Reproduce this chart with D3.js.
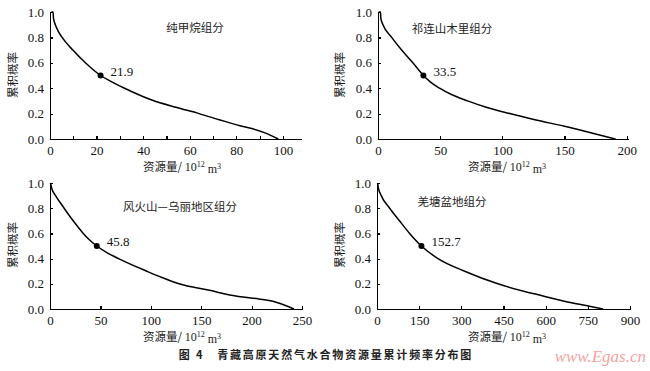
<!DOCTYPE html>
<meta charset="utf-8">
<html>
<head>
<title>资源量累计频率分布图</title>
<style>
  body { margin: 0; background: #fff; }
  svg { display: block; }
  .axis path, .axis line { stroke: #000; stroke-width: 1.2; fill: none; shape-rendering: crispEdges; }
  .axis text { font-family: "Liberation Serif", "DejaVu Serif", serif; font-size: 13px; fill: #111; }
  .cn { font-family: "Noto Sans CJK SC", sans-serif; fill: #222; }
  .curve { fill: none; stroke: #000; stroke-width: 1.5; }
</style>
</head>
<body>
<svg width="650" height="371"></svg>
<script src="https://d3js.org/d3.v7.min.js"></script>
<script>
// values: resource amount (10^12 m3) vs cumulative probability
var ch4X  = [0.6, 1.3, 1.5, 2.3, 3.5, 5.2, 9.8, 15.2, 21.7, 26.5, 32, 44, 54, 64, 73, 81.5, 87, 92, 98];
var ch4P  = [1.0, 1.0, 0.95, 0.9, 0.85, 0.8, 0.7, 0.6, 0.5, 0.45, 0.4, 0.305, 0.25, 0.2, 0.15, 0.105, 0.08, 0.05, 0.0];

var qlX   = [0.5, 2, 2.3, 4, 11, 19, 28, 36.5, 42, 49.5, 59, 72, 87, 106, 127, 150, 171, 191];
var qlP   = [1.0, 1.0, 0.95, 0.9, 0.8, 0.7, 0.6, 0.5, 0.45, 0.4, 0.35, 0.3, 0.25, 0.2, 0.15, 0.1, 0.05, 0.0];

var fhsX  = [0.5, 2, 5.5, 14, 23, 33, 39, 46.4, 56, 68, 96, 111, 128, 157, 187, 207, 222, 233, 242];
var fhsP  = [1.0, 0.95, 0.9, 0.8, 0.7, 0.6, 0.55, 0.5, 0.45, 0.4, 0.3, 0.25, 0.2, 0.15, 0.1, 0.08, 0.06, 0.03, 0.0];

var qtX   = [2, 5, 15, 45, 80, 116, 158, 217, 312, 430, 597, 692, 760, 804];
var qtP   = [1.0, 0.96, 0.9, 0.8, 0.7, 0.6, 0.5, 0.4, 0.3, 0.2, 0.1, 0.05, 0.02, 0.0];

var titles = ["纯甲烷组分", "祁连山木里组分", "风火山—乌丽地区组分", "羌塘盆地组分"];
var medianX = [21.7, 36.5, 46.4, 158];
var medianLabels = ["21.9", "33.5", "45.8", "152.7"];
var xTicks = [
  [0, 10, 20, 30, 40, 50, 60, 70, 80, 90, 100],
  [0, 50, 100, 150, 200],
  [0, 50, 100, 150, 200, 250],
  [0, 150, 300, 450, 600, 750, 900]
];
var xLabelEvery = [20, 50, 50, 150];
var yTicks = [0, 0.2, 0.4, 0.6, 0.8, 1.0];

var svg = d3.select("svg");

var panels = [
  {xs: ch4X, ps: ch4P, dom: [0, 108], rng: [50, 301.6], top: 12, bot: 139, tx: 195, ty: 28, lx: 182, ly: 75},
  {xs: qlX,  ps: qlP,  dom: [0, 201], rng: [378, 628],  top: 12, bot: 139, tx: 452, ty: 29, lx: 507, ly: 75},
  {xs: fhsX, ps: fhsP, dom: [0, 250], rng: [50, 302],   top: 183, bot: 309, tx: 180, ty: 207, lx: 182, ly: 245},
  {xs: qtX,  ps: qtP,  dom: [0, 900], rng: [377, 630],  top: 183, bot: 309, tx: 452, ty: 202, lx: 507, ly: 245}
];

panels.forEach(function(pn, i) {
  var x = d3.scaleLinear().domain(pn.dom).range(pn.rng);
  var y = d3.scaleLinear().domain([0, 1]).range([pn.bot, pn.top]);
  var g = svg.append("g");

  g.append("g")
      .attr("class", "axis")
      .attr("transform", "translate(0," + pn.bot + ")")
      .call(d3.axisBottom(x).tickValues(xTicks[i]).tickSize(-3).tickSizeOuter(0).tickPadding(7)
        .tickFormat(function(d) { return d % xLabelEvery[i] === 0 ? d : ""; }));

  g.append("g")
      .attr("class", "axis")
      .attr("transform", "translate(" + pn.rng[0] + ",0)")
      .call(d3.axisLeft(y).tickValues(yTicks).tickSize(-3).tickSizeOuter(0).tickPadding(6)
        .tickFormat(d3.format(".1f")));

  var pts = pn.xs.map(function(v, k) { return [v, pn.ps[k]]; });
  var line = d3.line()
      .x(function(d) { return x(d[0]); })
      .y(function(d) { return y(d[1]); })
      .curve(d3.curveMonotoneX);

  g.append("path")
      .datum(pts)
      .attr("class", "curve")
      .attr("d", line);

  g.append("circle")
      .attr("cx", x(medianX[i]))
      .attr("cy", y(0.5))
      .attr("r", 3)
      .attr("fill", "#000");

  g.append("text")
      .attr("x", x(medianX[i]) + 10)
      .attr("y", y(0.5) - 1)
      .attr("dy", "0.1em")
      .style("font-family", "'Liberation Serif', serif")
      .style("font-size", "13px")
      .attr("fill", "#111")
      .text(medianLabels[i]);

  g.append("text")
      .attr("class", "cn")
      .attr("x", pn.tx)
      .attr("y", pn.ty)
      .attr("dy", "0.35em")
      .attr("text-anchor", "middle")
      .style("font-size", "11.5px")
      .text(titles[i]);

  // y label
  var yl = pn.rng[0] === 50 ? 13 : 340;
  g.append("text")
      .attr("class", "cn")
      .attr("transform", "translate(" + yl + "," + pn.ly + ") rotate(-90)")
      .attr("dy", "0.35em")
      .attr("text-anchor", "middle")
      .style("font-size", "11.5px")
      .text("累积概率");

  // x label
  var xl = g.append("text")
      .attr("x", pn.lx)
      .attr("y", pn.bot + 26)
      .attr("dy", "0.35em")
      .attr("text-anchor", "middle")
      .attr("fill", "#222");
  xl.append("tspan").attr("class", "cn").style("font-size", "11.5px").text("资源量/ ");
  xl.append("tspan").style("font-family", "'Liberation Serif', serif").style("font-size", "12px").text("10");
  xl.append("tspan").style("font-family", "'Liberation Serif', serif").style("font-size", "8px").attr("dy", "-0.5em").text("12");
  xl.append("tspan").style("font-family", "'Liberation Serif', serif").style("font-size", "12px").attr("dy", "0.5em").text(" m");
  xl.append("tspan").style("font-family", "'Liberation Serif', serif").style("font-size", "8px").attr("dy", "-0.5em").text("3");
});

svg.append("text")
    .attr("class", "cn")
    .attr("x", 326)
    .attr("y", 355)
    .attr("dy", "0.35em")
    .attr("text-anchor", "middle")
    .style("font-size", "11px")
    .style("font-weight", "bold")
    .style("letter-spacing", "1.8px")
    .attr("xml:space", "preserve")
    .text("图 4   青藏高原天然气水合物资源量累计频率分布图");

svg.append("text")
    .attr("x", 646)
    .attr("y", 356)
    .attr("dy", "0.35em")
    .attr("text-anchor", "end")
    .style("font-family", "'Liberation Serif', serif")
    .style("font-style", "italic")
    .style("font-size", "17px")
    .attr("fill", "#f2a4a4")
    .text("www.Egas.cn");
</script>
</body>
</html>
